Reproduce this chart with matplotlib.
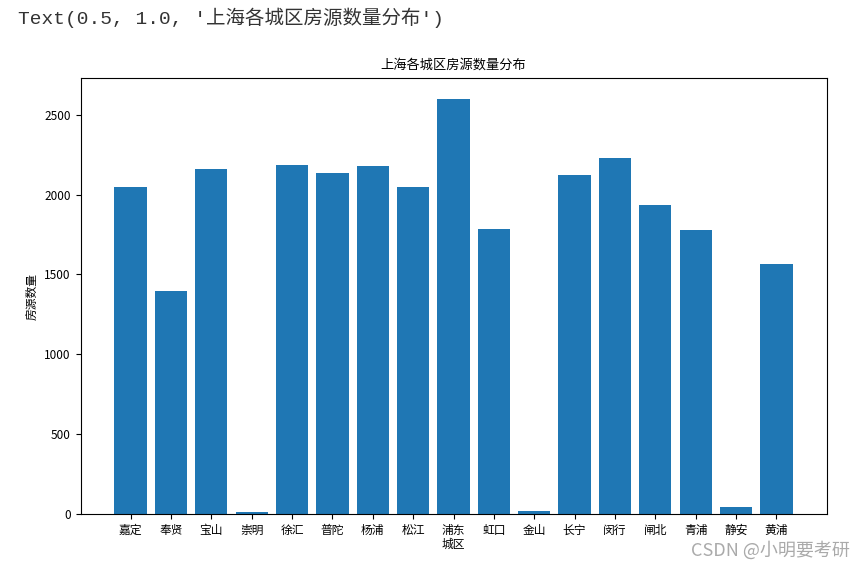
import matplotlib
matplotlib.use("Agg")
import matplotlib.pyplot as plt

plt.rcParams['font.family'] = ['Noto Sans CJK SC', 'DejaVu Sans']
plt.rcParams['axes.unicode_minus'] = False

districts = ['嘉定', '奉贤', '宝山', '崇明', '徐汇', '普陀', '杨浦', '松江', '浦东',
             '虹口', '金山', '长宁', '闵行', '闸北', '青浦', '静安', '黄浦']
counts = [2050, 1396, 2158, 12, 2188, 2138, 2182, 2050, 2600,
          1782, 20, 2120, 2232, 1932, 1776, 44, 1563]

fig = plt.figure(figsize=(8.65, 5.69), dpi=100)
ax = fig.add_axes([80.5 / 865, 55 / 569, 746 / 865, 436 / 569])
ax.bar(districts, counts, color='#1f77b4')
ax.set_title('上海各城区房源数量分布', fontsize=9.5, pad=7)
ax.set_xlabel('城区', fontsize=8.5, labelpad=1)
ax.set_ylabel('房源数量', fontsize=8.5)
ax.tick_params(labelsize=8.5)

fig.text(18 / 865, 1 - 18 / 569, "Text(0.5, 1.0, '上海各城区房源数量分布')",
         family=['Liberation Mono', 'Noto Sans CJK SC'], fontsize=14,
         color='#333333', va='center', ha='left')
fig.text(850 / 865, 1 - 550 / 569, 'CSDN @小明要考研', fontsize=13, color='#aaaaaa',
         ha='right', va='center')

fig.savefig('out.png', dpi=100)
